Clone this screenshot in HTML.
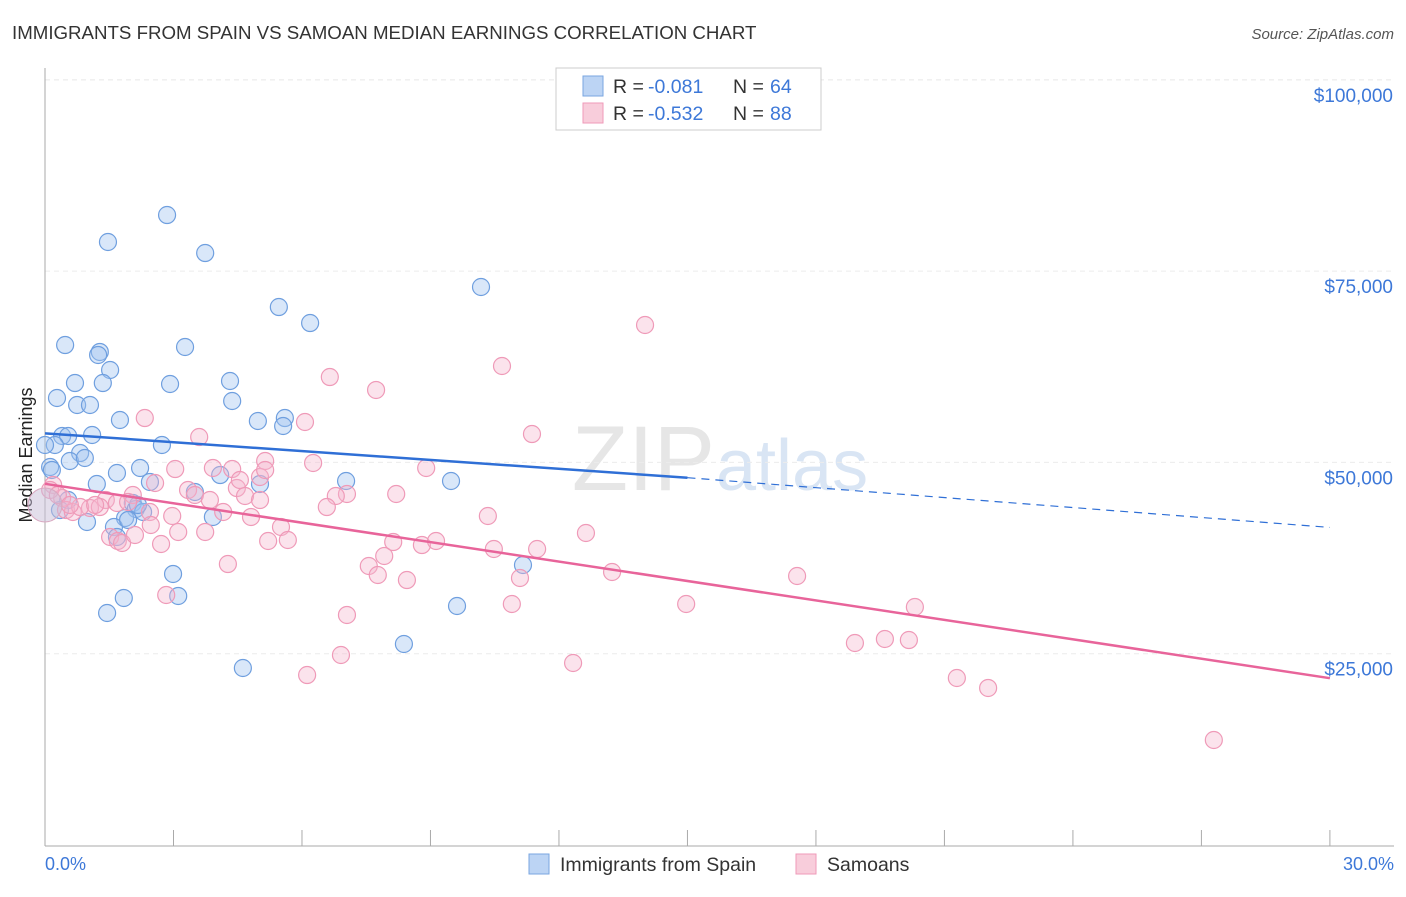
<!DOCTYPE html>
<html><head><meta charset="utf-8"><style>
body{margin:0;background:#fff;font-family:"Liberation Sans",sans-serif;}
svg text{font-family:"Liberation Sans",sans-serif;}
</style></head><body>
<svg id="chart" width="1406" height="892" xmlns="http://www.w3.org/2000/svg">
<text x="12" y="39" font-size="18.7" fill="#333">IMMIGRANTS FROM SPAIN VS SAMOAN MEDIAN EARNINGS CORRELATION CHART</text>
<text x="1394" y="39" font-size="15" fill="#555" font-style="italic" text-anchor="end">Source: ZipAtlas.com</text>
<text x="715" y="490" font-size="92" fill="#e6e6e6" text-anchor="end" font-family="Liberation Serif">ZIP</text>
<text x="716" y="490" font-size="72" fill="#d9e5f4">atlas</text>
<g id="grid"></g>
<line x1="45" y1="68" x2="45" y2="846" stroke="#aaa"/>
<line x1="45" y1="846" x2="1394" y2="846" stroke="#aaa"/>
<g id="ticks"></g>
<text x="32" y="455" font-size="18" fill="#222" text-anchor="middle" transform="rotate(-90 32 455)">Median Earnings</text>
<text x="45" y="870" font-size="18" fill="#3d78d8">0.0%</text>
<text x="1394" y="870" font-size="18" fill="#3d78d8" text-anchor="end">30.0%</text>
<g id="points"></g>
<g id="lines"></g>
<g>
<rect x="556" y="68" width="265" height="62" fill="#fff" stroke="#ccc"/>
<rect x="583" y="76" width="20" height="20" fill="#bcd4f4" stroke="#7aa6e0"/>
<rect x="583" y="103" width="20" height="20" fill="#f8cddb" stroke="#ef9ab8"/>
<text x="613" y="93" font-size="19.5" fill="#333">R =</text><text x="648" y="93" font-size="19.5" fill="#3d78d8">-0.081</text>
<text x="733" y="93" font-size="19.5" fill="#333">N =</text><text x="770" y="93" font-size="19.5" fill="#3d78d8">64</text>
<text x="613" y="120" font-size="19.5" fill="#333">R =</text><text x="648" y="120" font-size="19.5" fill="#3d78d8">-0.532</text>
<text x="733" y="120" font-size="19.5" fill="#333">N =</text><text x="770" y="120" font-size="19.5" fill="#3d78d8">88</text>
</g>
<g>
<rect x="529" y="854" width="20" height="20" fill="#bcd4f4" stroke="#7aa6e0"/>
<text x="560" y="871" font-size="19.5" fill="#333">Immigrants from Spain</text>
<rect x="796" y="854" width="20" height="20" fill="#f8cddb" stroke="#ef9ab8"/>
<text x="827" y="871" font-size="19.5" fill="#333">Samoans</text>
</g>
</svg>
<script>
const yTicks=[25000,50000,75000,100000];
const yTickLabels=["$25,000","$50,000","$75,000","$100,000"];
const xTicks=[0,3,6,9,12,15,18,21,24,27,30];
const bluePx=[[167,215],[108,242],[205,253],[279,307],[481,287],[310,323],[65,345],[100,352],[185,347],[98,355],[110,370],[75,383],[103,383],[170,384],[230,381],[57,398],[232,401],[77,405],[90,405],[120,420],[258,421],[285,418],[283,426],[62,436],[68,436],[92,435],[55,445],[162,445],[80,453],[70,461],[85,458],[50,467],[140,468],[117,473],[220,475],[346,481],[451,481],[150,482],[97,484],[260,484],[195,492],[68,500],[133,503],[136,509],[125,518],[213,517],[87,522],[114,527],[117,537],[523,565],[173,574],[178,596],[124,598],[107,613],[457,606],[404,644],[243,668],[45,445],[60,510],[143,512],[128,520],[52,470],[138,505]];
const pinkPx=[[645,325],[502,366],[330,377],[376,390],[145,418],[305,422],[532,434],[199,437],[313,463],[426,468],[175,469],[213,468],[232,469],[265,461],[260,477],[53,485],[155,483],[237,488],[188,490],[347,494],[336,496],[396,494],[245,496],[106,500],[133,495],[62,498],[117,503],[128,502],[66,510],[73,512],[90,508],[100,507],[260,500],[327,507],[80,507],[150,512],[223,512],[488,516],[172,516],[251,517],[178,532],[151,525],[281,527],[110,537],[118,541],[122,543],[135,535],[161,544],[205,532],[268,541],[288,540],[393,542],[422,545],[436,541],[494,549],[537,549],[586,533],[384,556],[369,566],[378,575],[407,580],[520,578],[612,572],[228,564],[166,595],[797,576],[512,604],[686,604],[915,607],[347,615],[885,639],[909,640],[855,643],[573,663],[341,655],[307,675],[957,678],[988,688],[1214,740],[50,490],[58,495],[70,505],[195,495],[240,480],[95,505],[210,500],[265,470]];
const blueX=bluePx.map(p=>+((p[0]-45)/42.83).toFixed(2));
const blueY=bluePx.map(p=>Math.round((845-p[1])/191.3*25000));
const pinkX=pinkPx.map(p=>+((p[0]-45)/42.83).toFixed(2));
const pinkY=pinkPx.map(p=>Math.round((845-p[1])/191.3*25000));
const blueTrend=[[0,53800],[15,48000],[30,41500]];
const pinkTrend=[[0,47200],[30,21800]];
const X=v=>45+v*42.83, Y=v=>845-v/25000*191.3;
const NS="http://www.w3.org/2000/svg";
function mk(tag,attrs,parent){const e=document.createElementNS(NS,tag);for(const k in attrs)e.setAttribute(k,attrs[k]);parent.appendChild(e);return e;}
const grid=document.getElementById('grid'),ticks=document.getElementById('ticks');
yTicks.forEach((t,i)=>{
 const l=mk('line',{x1:45,x2:1394,y1:Y(t),y2:Y(t),stroke:'#ececec','stroke-dasharray':'5,4'},grid);
 
 
 const tx=mk('text',{x:1393,y:Y(t)+22,'font-size':19,fill:'#3d78d8','text-anchor':'end'},ticks);
 tx.textContent=yTickLabels[i];
 
 
});
mk('line',{x1:45,x2:1394,y1:80,y2:80,stroke:'#ececec','stroke-dasharray':'5,4'},grid);
xTicks.forEach(t=>{
 const l=mk('line',{x1:X(t),x2:X(t),y1:830,y2:846,stroke:'#aaa'},ticks);
 
 
});
const pts=document.getElementById('points');
function dots(xs,ys,fill,stroke,name){xs.forEach((x,i)=>{
 const c=mk('circle',{cx:X(x),cy:Y(ys[i]),r:8.5,fill:fill,stroke:stroke,'stroke-width':1.2},pts);
 
 
});}
dots(blueX,blueY,'rgba(160,196,240,0.4)','#6f9fdf','spain-point');
dots(pinkX,pinkY,'rgba(244,182,204,0.38)','#ef9ab8','samoan-point');
const big1=mk('circle',{cx:45,cy:505,r:17,fill:'rgba(200,190,215,0.5)',stroke:'#d8a8c0'},pts);


const lg=document.getElementById('lines');
const b1=mk('line',{x1:X(blueTrend[0][0]),y1:Y(blueTrend[0][1]),x2:X(blueTrend[1][0]),y2:Y(blueTrend[1][1]),stroke:'#2f6fd6','stroke-width':2.5},lg);


const b2=mk('line',{x1:X(blueTrend[1][0]),y1:Y(blueTrend[1][1]),x2:X(blueTrend[2][0]),y2:Y(blueTrend[2][1]),stroke:'#2f6fd6','stroke-width':1.2,'stroke-dasharray':'8,6'},lg);


const p1=mk('line',{x1:X(pinkTrend[0][0]),y1:Y(pinkTrend[0][1]),x2:X(pinkTrend[1][0]),y2:Y(pinkTrend[1][1]),stroke:'#e8649a','stroke-width':2.5},lg);


</script>
</body></html>
